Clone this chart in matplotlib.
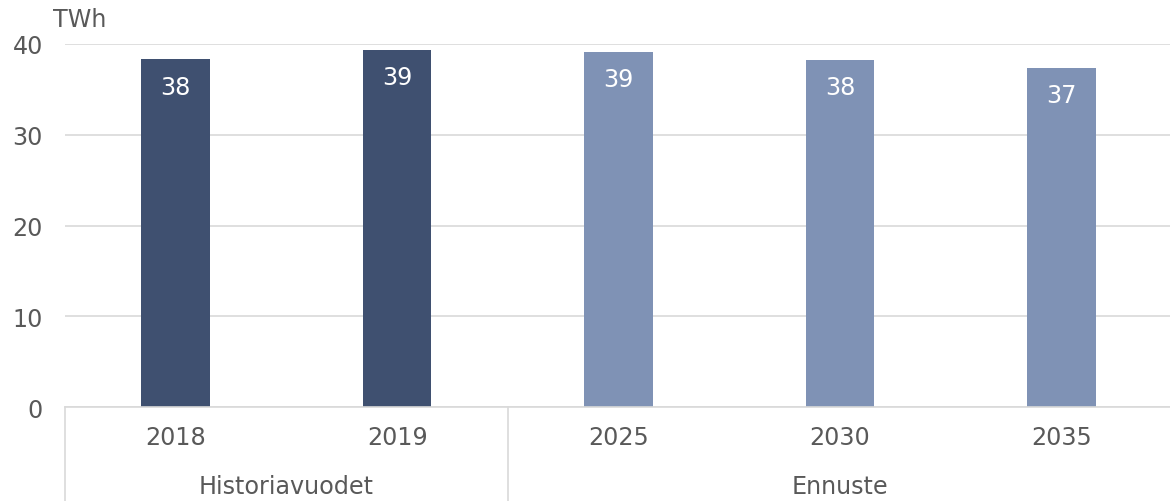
import matplotlib
matplotlib.use("Agg")
import matplotlib.pyplot as plt
from matplotlib.lines import Line2D
import matplotlib.transforms as mtransforms

years = ["2018", "2019", "2025", "2030", "2035"]
values = [38.3, 39.3, 39.1, 38.2, 37.4]
labels = ["38", "39", "39", "38", "37"]
groups = ["Historiavuodet", "Ennuste"]
group_sizes = [2, 3]
colors = ["#3F5070", "#3F5070", "#7F92B5", "#7F92B5", "#7F92B5"]
yticks = [0, 10, 20, 30, 40]
unit = "TWh"

W, H = 1170, 502
fig = plt.figure(figsize=(W / 100, H / 100), dpi=100)
plt.rcParams['font.family'] = ['DejaVu Sans']
txt = "#595959"
grid = "#D9D9D9"
fs = 17.2
lw = 1.2

ax_h = (408 - 45) / H
ax = fig.add_axes([65 / W, 1 - 408 / H, 1107 / W, ax_h])
x = list(range(len(years)))
ax.bar(x, values, width=0.31, color=colors, zorder=2)
ax.set_xlim(-0.5, len(years) - 0.5)
ax.set_ylim(0, 40)
ax.set_yticks(yticks)
ax.set_yticklabels([str(t) for t in yticks])
ax.yaxis.grid(True, color=grid, linewidth=lw, zorder=0)
ax.set_axisbelow(True)
for s in ["left", "right", "top"]:
    ax.spines[s].set_visible(False)
ax.spines["bottom"].set_color(grid)
ax.spines["bottom"].set_linewidth(lw)
ax.tick_params(axis="y", length=0, pad=16, labelsize=fs, labelcolor=txt)
ax.tick_params(axis="x", length=0, labelbottom=False)
ax.set_xticks(x)

for xi, v, lab in zip(x, values, labels):
    ax.annotate(lab, (xi, v), xytext=(0, -19.5), textcoords="offset points",
                ha="center", va="center", color="white", fontsize=fs)

trans = mtransforms.blended_transform_factory(ax.transData, ax.transAxes)
for xi, yr in zip(x, years):
    ax.text(xi, -30 / 363, yr, transform=trans, ha="center", va="center",
            fontsize=fs, color=txt)

start = 0
bounds = [-0.5]
for g, n in zip(groups, group_sizes):
    center = start + (n - 1) / 2
    ax.text(center, -79 / 363, g, transform=trans, ha="center", va="center",
            fontsize=fs, color=txt)
    start += n
    bounds.append(start - 0.5)
for b in bounds:
    ax.add_line(Line2D([b, b], [0, -94 / 363], transform=trans, color=grid,
                       linewidth=lw, clip_on=False))

fig.text(53 / W, 1 - 20 / H, unit, ha="left", va="center", fontsize=fs, color=txt)

fig.savefig("out.png", dpi=100)
